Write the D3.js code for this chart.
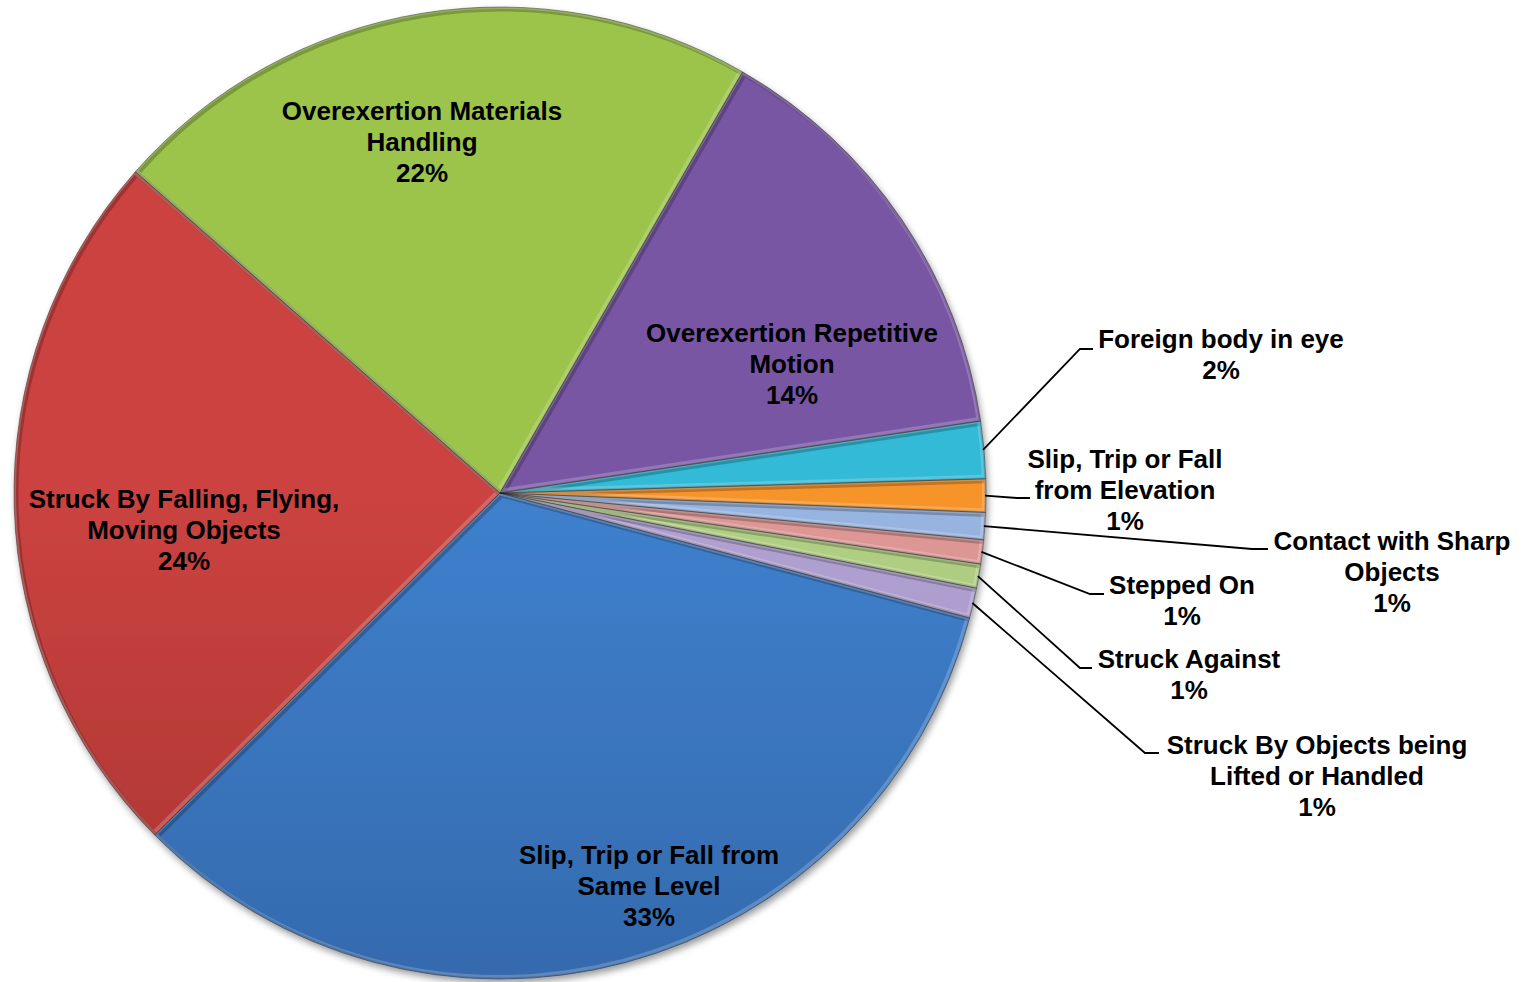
<!DOCTYPE html>
<html>
<head>
<meta charset="utf-8">
<script src="https://cdn.jsdelivr.net/npm/d3@7"></script>
<style>
  html, body { margin: 0; padding: 0; background: #ffffff; }
  svg { display: block; }
  text { font-family: "Liberation Sans", Arial, sans-serif; font-weight: bold; fill: #000; }
</style>
</head>
<body>
<svg id="chart" width="1527" height="982"></svg>
<script>
// ---- data ----
const categories = [
  "Overexertion Repetitive Motion",
  "Foreign body in eye",
  "Slip, Trip or Fall from Elevation",
  "Contact with Sharp Objects",
  "Stepped On",
  "Struck Against",
  "Struck By Objects being Lifted or Handled",
  "Slip, Trip or Fall from Same Level",
  "Struck By Falling, Flying, Moving Objects",
  "Overexertion Materials Handling"
];
const values = [14.3, 1.9, 1.1, 0.9, 0.8, 0.8, 1.0, 33.4, 23.9, 21.8];
const labelLines = [
  ["Overexertion Repetitive", "Motion"],
  ["Foreign body in eye"],
  ["Slip, Trip or Fall", "from Elevation"],
  ["Contact with Sharp", "Objects"],
  ["Stepped On"],
  ["Struck Against"],
  ["Struck By Objects being", "Lifted or Handled"],
  ["Slip, Trip or Fall from", "Same Level"],
  ["Struck By Falling, Flying,", "Moving Objects"],
  ["Overexertion Materials", "Handling"]
];

// ---- styles / layout ----
const colorTop = ["#7856A4", "#30BAD6", "#F6942A", "#98B4E0", "#DE9896", "#B2D084", "#B2A2D2", "#3F80CD", "#CB4340", "#9CC44B"];
const colorBot = ["#4E3772", "#1B8AA4", "#D8720C", "#7390C2", "#BD706E", "#8EAC60", "#8A78AE", "#29548E", "#882523", "#6E8D31"];
const cx = 500, cy = 493, R = 486;
const startDeg = 29.95;
const fontSize = 26, lineH = 31;
// label anchor (center x, first baseline y) and optional leader elbow/end
const labelLayout = [
  { x: 792, y: 342 },
  { x: 1221, y: 348, elbow: [1080, 349], end: [1093, 349] },
  { x: 1125, y: 468, elbow: [1017, 498], end: [1030, 498] },
  { x: 1392, y: 550, elbow: [1252, 549], end: [1268, 549] },
  { x: 1182, y: 594, elbow: [1090, 594], end: [1104, 594] },
  { x: 1189, y: 668, elbow: [1080, 668], end: [1092, 668] },
  { x: 1317, y: 754, elbow: [1145, 753], end: [1159, 753] },
  { x: 649, y: 864 },
  { x: 184, y: 508 },
  { x: 422, y: 120 }
];

const svg = d3.select("#chart");
const defs = svg.append("defs");

const total = d3.sum(values);
const pct = d3.format(".0%");

const pie = d3.pie().sort(null).value(d => d)
  .startAngle(startDeg * Math.PI / 180)
  .endAngle(startDeg * Math.PI / 180 + 2 * Math.PI);
const arcs = pie(values);
const arc = d3.arc().innerRadius(0).outerRadius(R);

// gradients
values.forEach((v, i) => {
  const g = defs.append("linearGradient")
    .attr("id", "grad" + i)
    .attr("gradientUnits", "userSpaceOnUse")
    .attr("x1", 0).attr("y1", cy - R).attr("x2", 0).attr("y2", cy + R);
  g.append("stop").attr("offset", "0%").attr("stop-color", colorTop[i]);
  g.append("stop").attr("offset", "100%").attr("stop-color", colorBot[i]);
  defs.append("clipPath").attr("id", "clip" + i)
    .append("path").attr("transform", `translate(${cx},${cy})`).attr("d", arc(arcs[i]));
});

const shadow = defs.append("filter").attr("id", "shadow")
  .attr("x", "-10%").attr("y", "-10%").attr("width", "120%").attr("height", "120%");
shadow.append("feDropShadow").attr("dx", 2).attr("dy", 4).attr("stdDeviation", 3.5)
  .attr("flood-color", "#000").attr("flood-opacity", 0.4);

const pieG = svg.append("g").attr("transform", `translate(${cx},${cy})`);
const slicesG = pieG.append("g").attr("filter", "url(#shadow)");

slicesG.selectAll("path.slice").data(arcs).join("path")
  .attr("class", "slice")
  .attr("d", arc)
  .attr("fill", (d, i) => `url(#grad${i})`);

// bevel highlight / shade inside each slice
const bevelG = svg.append("g");
arcs.forEach((d, i) => {
  const g = bevelG.append("g").attr("clip-path", `url(#clip${i})`);
  g.append("path").attr("transform", `translate(${cx + 1.5},${cy + 1.5})`).attr("d", arc(d))
    .attr("fill", "none").attr("stroke", "#000").attr("stroke-opacity", 0.22).attr("stroke-width", 6);
  g.append("path").attr("transform", `translate(${cx - 1},${cy - 1})`).attr("d", arc(d))
    .attr("fill", "none").attr("stroke", "#fff").attr("stroke-opacity", 0.2).attr("stroke-width", 6);
});

pieG.append("g").selectAll("path.edge").data(arcs).join("path")
  .attr("class", "edge")
  .attr("d", arc)
  .attr("fill", "none")
  .attr("stroke", "#000")
  .attr("stroke-opacity", 0.4)
  .attr("stroke-width", 1);

// leader lines
const leaderG = svg.append("g");
arcs.forEach((d, i) => {
  const L = labelLayout[i];
  if (!L.elbow) return;
  const a = (d.startAngle + d.endAngle) / 2;
  const sx = cx + (R - 1) * Math.sin(a), sy = cy - (R - 1) * Math.cos(a);
  leaderG.append("path")
    .attr("d", d3.line()([[sx, sy], L.elbow, L.end]))
    .attr("fill", "none").attr("stroke", "#000").attr("stroke-width", 1.8);
});

// labels
const labelG = svg.append("g");
arcs.forEach((d, i) => {
  const L = labelLayout[i];
  const lines = labelLines[i].concat([pct(values[i] / total)]);
  const t = labelG.append("text")
    .attr("text-anchor", "middle")
    .attr("font-size", fontSize);
  lines.forEach((ln, j) => {
    t.append("tspan").attr("x", L.x).attr("y", L.y + j * lineH).text(ln);
  });
});
</script>
</body>
</html>
